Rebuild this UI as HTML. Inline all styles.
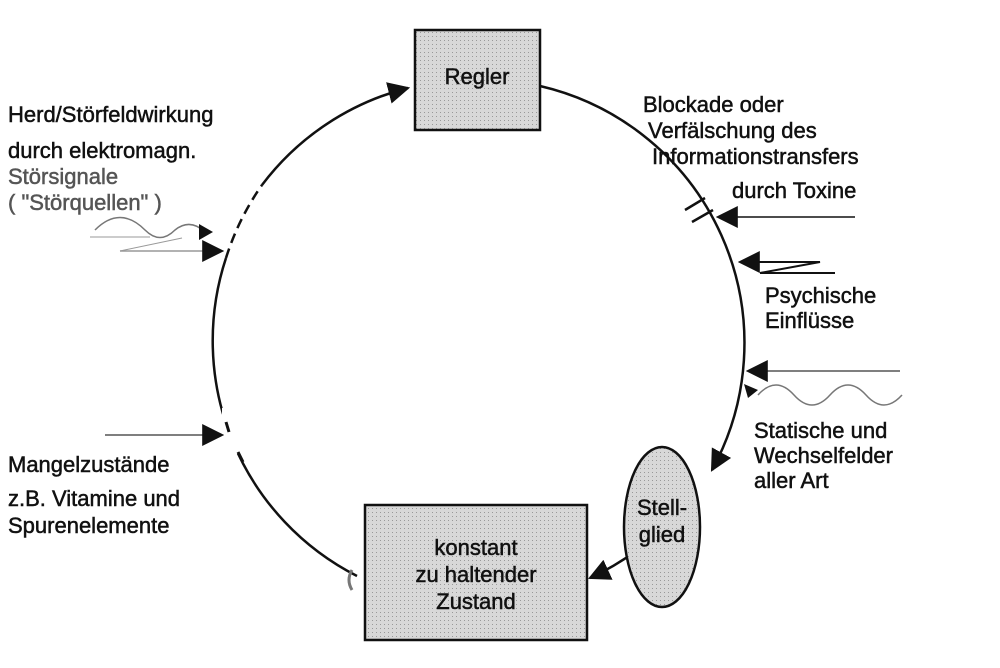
<!DOCTYPE html>
<html><head><meta charset="utf-8"><style>
html,body{margin:0;padding:0;background:#fff;}
svg{display:block}
text{font-family:"Liberation Sans",sans-serif;font-size:22px;fill:#111;stroke:#111;stroke-width:0.5px;}
</style></head><body>
<svg width="1000" height="668" viewBox="0 0 1000 668" xmlns="http://www.w3.org/2000/svg">
<defs>
<marker id="b" viewBox="0 0 10 10" markerWidth="22" markerHeight="22" refX="9" refY="5" orient="auto" markerUnits="userSpaceOnUse"><path d="M0,0 L10,5 L0,10z" fill="#111"/></marker>
<pattern id="dots" width="4" height="4" patternUnits="userSpaceOnUse"><rect width="4" height="4" fill="#d8d8d8"/><rect width="1" height="1" fill="#999"/></pattern>
</defs>
<path d="M262,185 A264,264 0 0 1 408,88" fill="none" stroke="#111" stroke-width="2.5" marker-end="url(#b)"/>
<path d="M540,86 A264,264 0 0 1 712,470" fill="none" stroke="#111" stroke-width="2.5" marker-end="url(#b)"/>
<path d="M640,548 A264,264 0 0 1 590,578" fill="none" stroke="#111" stroke-width="2.5" marker-end="url(#b)"/>
<path d="M357,576 A264,264 0 0 1 226,258" fill="none" stroke="#111" stroke-width="2.5"/>
<path d="M226,258 A264,264 0 0 1 262,185" fill="none" stroke="#111" stroke-width="2.5" stroke-dasharray="10 6"/>
<rect x="222" y="408" width="30" height="46" fill="#fff"/>
<line x1="226" y1="422" x2="229" y2="432" stroke="#111" stroke-width="3"/>
<line x1="238" y1="452" x2="243" y2="462" stroke="#111" stroke-width="3"/>
<rect x="415" y="30" width="125" height="100" fill="url(#dots)" stroke="#111" stroke-width="2.5"/>
<text x="477" y="84" text-anchor="middle">Regler</text>
<rect x="365" y="505" width="222" height="135" fill="url(#dots)" stroke="#111" stroke-width="2.5"/>
<text x="476" y="555" text-anchor="middle">konstant</text>
<text x="476" y="582" text-anchor="middle">zu haltender</text>
<text x="476" y="609" text-anchor="middle">Zustand</text>
<ellipse cx="662" cy="527" rx="38" ry="80" fill="url(#dots)" stroke="#111" stroke-width="2.5"/>
<text x="662" y="515" text-anchor="middle">Stell-</text>
<text x="662" y="542" text-anchor="middle">glied</text>
<path d="M352,570 q-6,10 0,20" fill="none" stroke="#777" stroke-width="3"/>
<line x1="685" y1="210" x2="705" y2="198" stroke="#111" stroke-width="2.5"/>
<line x1="692" y1="222" x2="713" y2="210" stroke="#111" stroke-width="2.5"/>
<line x1="855" y1="217" x2="718" y2="217" stroke="#111" stroke-width="1.5" marker-end="url(#b)"/>
<polyline points="835,273 760,273 820,262 740,262" fill="none" stroke="#111" stroke-width="2" marker-end="url(#b)"/>
<line x1="900" y1="371" x2="748" y2="371" stroke="#555" stroke-width="1.5" marker-end="url(#b)"/>
<path d="M758,395 q18,-20 36,0 t36,0 t36,0 t36,0" fill="none" stroke="#777" stroke-width="1.5"/>
<path d="M758,390 l-14,-6 l4,14z" fill="#111"/>
<path d="M95,230 q25,-25 50,0 q15,15 30,0 q15,-12 30,2" fill="none" stroke="#777" stroke-width="1.5"/>
<path d="M205,232 l-14,-8 l0,16z" transform="translate(8,0)" fill="#111"/>
<line x1="90" y1="237" x2="150" y2="237" stroke="#999" stroke-width="1"/>
<line x1="120" y1="251" x2="182" y2="238" stroke="#999" stroke-width="1"/>
<line x1="120" y1="251" x2="222" y2="251" stroke="#999" stroke-width="1.5" marker-end="url(#b)"/>
<line x1="105" y1="435" x2="222" y2="435" stroke="#555" stroke-width="1.5" marker-end="url(#b)"/>
<text x="8" y="122">Herd/Störfeldwirkung</text>
<text x="8" y="158">durch elektromagn.</text>
<text x="8" y="184" style="fill:#555;stroke:#555">Störsignale</text>
<text x="8" y="210" style="fill:#555;stroke:#555">( "Störquellen" )</text>
<text x="8" y="472">Mangelzustände</text>
<text x="8" y="506">z.B. Vitamine und</text>
<text x="8" y="533">Spurenelemente</text>
<text x="643" y="112">Blockade oder</text>
<text x="648" y="138">Verfälschung des</text>
<text x="652" y="164">Informationstransfers</text>
<text x="732" y="198">durch Toxine</text>
<text x="765" y="303">Psychische</text>
<text x="765" y="328">Einflüsse</text>
<text x="754" y="438">Statische und</text>
<text x="754" y="463">Wechselfelder</text>
<text x="754" y="488">aller Art</text>
</svg>
</body></html>
